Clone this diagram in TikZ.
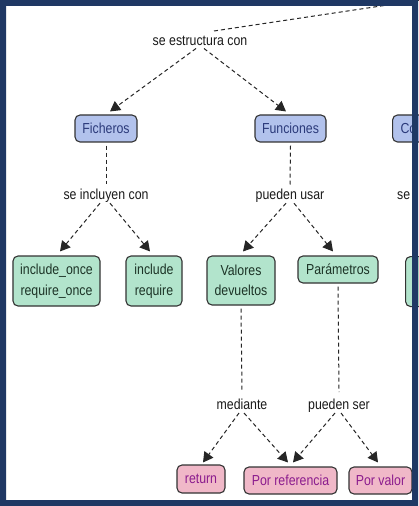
\documentclass[tikz,border=0pt]{standalone}
\usepackage{fontspec}
\setmainfont{Liberation Sans}[FakeStretch=0.85]
\usetikzlibrary{arrows.meta,calc}
\definecolor{framec}{HTML}{1F3864}
\definecolor{boxline}{HTML}{333333}
\definecolor{bluefill}{HTML}{B2C2EC}
\definecolor{bluetext}{HTML}{2B3A7A}
\definecolor{greenfill}{HTML}{B2E4CC}
\definecolor{greentext}{HTML}{1C3326}
\definecolor{pinkfill}{HTML}{F0B8C8}
\definecolor{pinktext}{HTML}{8B1C8E}
\definecolor{linktext}{HTML}{1A1A1A}
\begin{document}
\begin{tikzpicture}[x=1bp,y=-1bp,
  every node/.style={font=\fontsize{14.5bp}{20.5bp}\selectfont},
  concept/.style={draw=boxline, line width=1.1bp, rounded corners=5bp, inner sep=0pt, align=center},
  bluebox/.style={concept, fill=bluefill, text=bluetext},
  greenbox/.style={concept, fill=greenfill, text=greentext},
  pinkbox/.style={concept, fill=pinkfill, text=pinktext},
  linklabel/.style={inner sep=1bp, text=linktext, anchor=base},
  link/.style={dash pattern=on 4bp off 3bp, line width=1bp, draw=black!85},
  arr/.style={link, -{Triangle[length=10bp,width=11bp]}},
]
\useasboundingbox (0,0) rectangle (418,506);
\fill[white] (0,0) rectangle (418,506);

% linking phrases
\node[linklabel] (l1) at (200,45.5) {se estructura con};
\node[linklabel] (l2) at (106,199.5) {se incluyen con};
\node[linklabel] (l3) at (290,199.5) {pueden usar};
\node[linklabel, anchor=base west] (l4) at (396,199.5) {se};
\node[linklabel] (l5) at (242,409) {mediante};
\node[linklabel] (l6) at (339,409) {pueden ser};

% concepts
\node[bluebox, minimum width=62bp, minimum height=27bp] (fich) at (106,128.5) {Ficheros};
\node[bluebox, minimum width=71bp, minimum height=27bp] (func) at (290.5,128.5) {Funciones};
\node[bluebox, anchor=west, minimum height=27bp, inner xsep=8bp, text width=50bp, align=left] (comp) at (392,128.5) {Co};

\node[greenbox, minimum width=87bp, minimum height=50bp] (inc1) at (56.5,281) {include\_once\\require\_once};
\node[greenbox, minimum width=56bp, minimum height=50bp] (inc2) at (154,281) {include\\require};
\node[greenbox, minimum width=68bp, minimum height=49bp] (val) at (241,280.5) {Valores\\devueltos};
\node[greenbox, minimum width=80bp, minimum height=27bp] (par) at (338,269.5) {Parámetros};
\node[greenbox, anchor=north west, minimum width=40bp, minimum height=50bp] (g4) at (405,256) {};

\node[pinkbox, minimum width=48bp, minimum height=28bp] (ret) at (201,479) {return};
\node[pinkbox, minimum width=93bp, minimum height=27bp] (pref) at (290.5,480.5) {Por referencia};
\node[pinkbox, minimum width=63bp, minimum height=27bp] (pval) at (380.5,480.5) {Por valor};

% connectors
\coordinate (tr) at (421,0);
\draw[link] ($(l1.base)+(14,-14.5)$) -- (tr);

\draw[arr] ($(l1.base)+(-4,3)$) -- ($(fich.north)+(4,-3)$);
\draw[arr] ($(l1.base)+(4,3)$) -- ($(func.north)+(-4.5,-3)$);

\draw[link] ($(fich.south)+(0,3)$) -- ($(l2.base)+(0,-15)$);
\draw[link] ($(func.south)+(0,3)$) -- ($(l3.base)+(0,-15)$);

\draw[arr] ($(l2.base)+(-6,3.7)$) -- ($(inc1.north)+(3.5,-4)$);
\draw[arr] ($(l2.base)+(4,3.7)$) -- ($(inc2.north)+(-4,-4)$);
\draw[arr] ($(l3.base)+(-4,3.7)$) -- ($(val.north)+(2,-4)$);
\draw[arr] ($(l3.base)+(4,3.7)$) -- ($(par.north)+(-5,-4)$);

\draw[link] ($(val.south)+(0,3)$) -- ($(l5.base)+(0,-17)$);
\draw[link] ($(par.south)+(0,3)$) -- ($(l6.base)+(0,-17)$);

\draw[arr] ($(l5.base)+(-3,4)$) -- ($(ret.north)+(2,-2)$);
\draw[arr] ($(l5.base)+(2,4)$) -- ($(pref.north)+(-2.5,-4)$);
\draw[arr] ($(l6.base)+(-4,4)$) -- ($(pref.north)+(2.5,-4)$);
\draw[arr] ($(l6.base)+(2,4)$) -- ($(pval.north)+(-2.5,-4)$);

% frame
\fill[framec, even odd rule] (0,0) rectangle (418,506) (6,6) rectangle (412,500);
\end{tikzpicture}
\end{document}
